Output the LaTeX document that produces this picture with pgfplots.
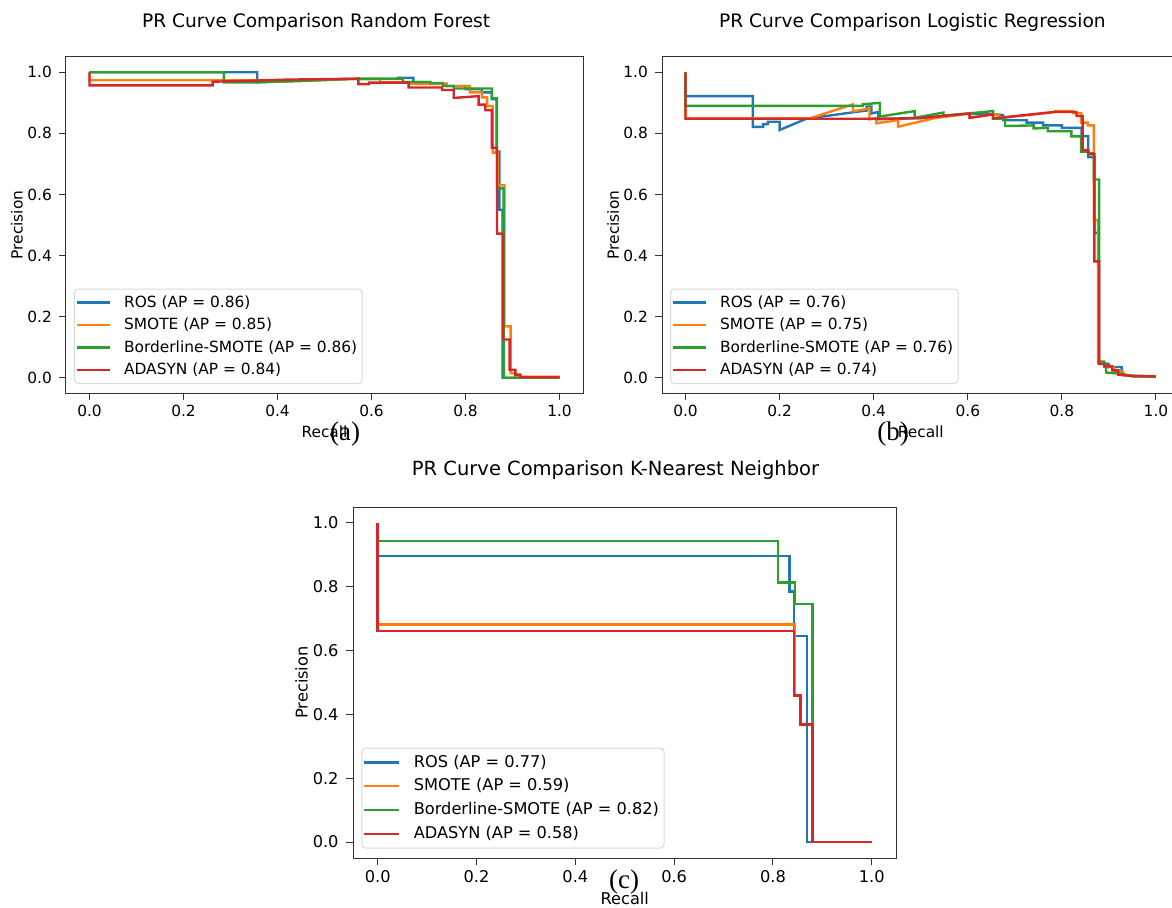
\documentclass[border=0pt]{standalone}
\usepackage{fontspec}
\setmainfont{DejaVu Sans}
\newfontfamily\capfont{Liberation Serif}
\usepackage{pgfplots}
\pgfplotsset{compat=1.18}

\definecolor{tabblue}{HTML}{1F77B4}
\definecolor{taborange}{HTML}{FF7F0E}
\definecolor{tabgreen}{HTML}{2CA02C}
\definecolor{tabred}{HTML}{D62728}

\pgfplotsset{
  prcurve/.style={
    scale only axis,
    xmin=-0.05, xmax=1.05, ymin=-0.05, ymax=1.05,
    xtick={0,0.2,0.4,0.6,0.8,1.0}, ytick={0,0.2,0.4,0.6,0.8,1.0},
    tick pos=left, tick align=outside,
    axis line style={black!80, line width=0.5pt},
    tick style={black!80, line width=0.5pt},
    /pgf/number format/assume math mode=true,
    /pgf/number format/fixed, /pgf/number format/fixed zerofill,
    /pgf/number format/precision=1,
    xlabel={Recall}, ylabel={Precision},
    legend cell align=left,
  },
  % sizes of the two top panels
  sizeA/.style={
    major tick length=3.5pt,
    ticklabel style={font=\fontsize{7.7}{9}\selectfont},
    xticklabel style={anchor=base, yshift=-8.3pt},
    title style={font=\fontsize{9.3}{11}\selectfont, anchor=base, yshift=8.7pt, xshift=-4.2pt},
    every axis x label/.style={at={(axis description cs:0.5,0)}, anchor=base, yshift=-22pt,
      font=\fontsize{7.7}{9}\selectfont},
    every axis y label/.style={at={(axis description cs:0,0.5)}, xshift=-24.5pt, rotate=90,
      anchor=center, font=\fontsize{7.7}{9}\selectfont},
    every axis plot/.append style={line width=1.2pt, no markers},
    legend image code/.code={\draw[##1] (0pt,0pt) -- (16.5pt,0pt);},
    legend style={at={(0,0)}, anchor=south west, xshift=4pt, yshift=4.5pt,
      font=\fontsize{7.7}{9}\selectfont, draw=black!15, line width=0.5pt,
      rounded corners=2pt, fill=white, fill opacity=0.8, text opacity=1,
      inner xsep=0.5pt, inner ysep=1.5pt, row sep=0.75pt,
      nodes={inner xsep=2pt, inner ysep=1.5pt, text height=6pt, text depth=1.5pt},
      /tikz/every odd column/.append style={column sep=4.6pt}},
  },
  % the bottom panel is drawn about 5 per cent larger
  sizeC/.style={
    major tick length=3.7pt,
    ticklabel style={font=\fontsize{8.1}{9.5}\selectfont},
    xticklabel style={anchor=base, yshift=-8.7pt},
    title style={font=\fontsize{9.75}{11.5}\selectfont, anchor=base, yshift=9.6pt, xshift=-4.6pt},
    every axis x label/.style={at={(axis description cs:0.5,0)}, anchor=base, yshift=-23pt,
      font=\fontsize{8.1}{9.5}\selectfont},
    every axis y label/.style={at={(axis description cs:0,0.5)}, xshift=-25.7pt, rotate=90,
      anchor=center, font=\fontsize{8.1}{9.5}\selectfont},
    every axis plot/.append style={line width=1.26pt, no markers},
    legend image code/.code={\draw[##1] (0pt,0pt) -- (17.3pt,0pt);},
    legend style={at={(0,0)}, anchor=south west, xshift=4.2pt, yshift=4.7pt,
      font=\fontsize{8.1}{9.5}\selectfont, draw=black!15, line width=0.5pt,
      rounded corners=2pt, fill=white, fill opacity=0.8, text opacity=1,
      inner xsep=0.5pt, inner ysep=1.6pt, row sep=0.8pt,
      nodes={inner xsep=2.1pt, inner ysep=1.6pt, text height=6.3pt, text depth=1.6pt},
      /tikz/every odd column/.append style={column sep=4.8pt}},
  },
}

\begin{document}
\begin{tikzpicture}
\useasboundingbox (0,0) rectangle (586pt,453.5pt);

% (a) Random Forest
\begin{axis}[prcurve, sizeA, at={(33pt,257pt)}, anchor=south west,
  width=258.5pt, height=168pt,
  title={PR Curve Comparison Random Forest}]
\addplot[tabblue] coordinates {(0,1.0)(0.357,1.0)(0.357,0.968)(0.45,0.972)(0.55,0.978)
  (0.657,0.979)(0.657,0.982)(0.689,0.982)(0.689,0.968)(0.725,0.968)(0.725,0.962)
  (0.76,0.962)(0.76,0.955)(0.8,0.955)(0.8,0.945)(0.835,0.945)(0.835,0.934)
  (0.856,0.934)(0.856,0.912)(0.866,0.912)(0.866,0.74)(0.872,0.74)(0.872,0.55)
  (0.879,0.55)(0.879,0.0)(1.0,0.0)};
\addlegendentry{ROS (AP = 0.86)}
\addplot[taborange] coordinates {(0,1.0)(0,0.974)(0.359,0.974)(0.359,0.968)(0.45,0.972)
  (0.55,0.978)(0.618,0.979)(0.618,0.968)(0.683,0.968)(0.683,0.962)(0.76,0.962)
  (0.76,0.955)(0.809,0.955)(0.809,0.934)(0.835,0.934)(0.835,0.918)(0.846,0.918)
  (0.846,0.889)(0.858,0.889)(0.858,0.737)(0.869,0.737)(0.869,0.63)(0.883,0.63)
  (0.883,0.168)(0.896,0.168)(0.896,0.015)(0.906,0.015)(0.906,0.003)(1.0,0.003)};
\addlegendentry{SMOTE (AP = 0.85)}
\addplot[tabgreen] coordinates {(0,1.0)(0.286,1.0)(0.286,0.967)(0.36,0.967)(0.45,0.972)
  (0.55,0.978)(0.667,0.979)(0.667,0.968)(0.725,0.968)(0.725,0.965)(0.752,0.965)
  (0.752,0.955)(0.775,0.955)(0.775,0.947)(0.856,0.947)(0.856,0.915)(0.867,0.915)
  (0.867,0.62)(0.881,0.62)(0.881,0.0)(1.0,0.0)};
\addlegendentry{Borderline-SMOTE (AP = 0.86)}
\addplot[tabred] coordinates {(0,1.0)(0,0.957)(0.262,0.957)(0.262,0.969)(0.377,0.974)
  (0.42,0.976)(0.572,0.979)(0.572,0.961)(0.595,0.961)(0.595,0.966)(0.679,0.966)
  (0.679,0.950)(0.75,0.950)(0.75,0.942)(0.775,0.942)(0.775,0.916)(0.828,0.922)
  (0.828,0.894)(0.842,0.894)(0.842,0.876)(0.856,0.876)(0.856,0.753)(0.867,0.753)
  (0.867,0.472)(0.880,0.472)(0.880,0.125)(0.894,0.125)(0.894,0.026)(0.906,0.026)
  (0.906,0.01)(0.917,0.01)(0.917,0.002)(1.0,0.002)};
\addlegendentry{ADASYN (AP = 0.84)}
\end{axis}

% (b) Logistic Regression
\begin{axis}[prcurve, sizeA, at={(331pt,257pt)}, anchor=south west,
  width=258.75pt, height=168pt,
  title={PR Curve Comparison Logistic Regression}]
\addplot[tabblue] coordinates {(0,1.0)(0,0.922)(0.143,0.922)(0.143,0.821)(0.165,0.821)
  (0.165,0.83)(0.175,0.83)(0.175,0.838)(0.2,0.838)(0.2,0.811)(0.257,0.848)
  (0.385,0.875)(0.385,0.888)(0.395,0.888)(0.395,0.865)(0.41,0.87)(0.41,0.846)
  (0.5,0.85)(0.604,0.865)(0.653,0.862)(0.675,0.86)(0.675,0.843)(0.725,0.843)
  (0.725,0.835)(0.76,0.835)(0.76,0.826)(0.8,0.826)(0.8,0.818)(0.842,0.818)
  (0.842,0.791)(0.856,0.791)(0.856,0.722)(0.869,0.722)(0.869,0.474)(0.878,0.474)
  (0.878,0.05)(0.9,0.045)(0.9,0.035)(0.927,0.035)(0.927,0.01)(0.95,0.006)(1.0,0.004)};
\addlegendentry{ROS (AP = 0.76)}
\addplot[taborange] coordinates {(0,1.0)(0,0.849)(0.264,0.849)(0.356,0.895)(0.356,0.872)
  (0.391,0.882)(0.391,0.846)(0.405,0.85)(0.405,0.833)(0.452,0.843)(0.452,0.822)
  (0.53,0.85)(0.604,0.865)(0.604,0.851)(0.653,0.862)(0.665,0.862)(0.665,0.849)
  (0.785,0.870)(0.785,0.873)(0.824,0.873)(0.824,0.866)(0.841,0.866)(0.841,0.835)
  (0.855,0.835)(0.855,0.826)(0.868,0.826)(0.868,0.516)(0.877,0.516)(0.877,0.048)
  (0.89,0.048)(0.89,0.035)(0.91,0.035)(0.91,0.02)(0.93,0.02)(0.93,0.008)(1.0,0.004)};
\addlegendentry{SMOTE (AP = 0.75)}
\addplot[tabgreen] coordinates {(0,1.0)(0,0.89)(0.377,0.89)(0.377,0.895)(0.413,0.9)
  (0.413,0.855)(0.487,0.873)(0.487,0.851)(0.548,0.868)(0.548,0.858)(0.60,0.865)
  (0.654,0.873)(0.654,0.848)(0.679,0.848)(0.679,0.824)(0.74,0.826)(0.74,0.816)
  (0.77,0.818)(0.77,0.807)(0.82,0.807)(0.82,0.79)(0.841,0.79)(0.841,0.74)
  (0.857,0.74)(0.857,0.735)(0.868,0.735)(0.868,0.649)(0.879,0.649)(0.879,0.053)
  (0.89,0.053)(0.89,0.045)(0.894,0.045)(0.894,0.017)(0.93,0.012)(0.95,0.004)(1.0,0.004)};
\addlegendentry{Borderline-SMOTE (AP = 0.76)}
\addplot[tabred] coordinates {(0,1.0)(0,0.848)(0.42,0.848)(0.5,0.85)(0.604,0.865)
  (0.604,0.851)(0.653,0.862)(0.653,0.849)(0.785,0.870)(0.831,0.870)(0.831,0.857)
  (0.844,0.857)(0.844,0.745)(0.856,0.745)(0.856,0.732)(0.869,0.732)(0.869,0.381)
  (0.879,0.381)(0.879,0.045)(0.89,0.045)(0.89,0.037)(0.907,0.037)(0.907,0.024)
  (0.92,0.024)(0.92,0.010)(0.95,0.006)(1.0,0.004)};
\addlegendentry{ADASYN (AP = 0.74)}
\end{axis}

% (c) K-Nearest Neighbor
\begin{axis}[prcurve, sizeC, at={(176.5pt,24.5pt)}, anchor=south west,
  width=271.75pt, height=175.5pt,
  title={PR Curve Comparison K-Nearest Neighbor}]
\addplot[tabblue] coordinates {(0,1.0)(0,0.896)(0.833,0.896)(0.833,0.786)(0.843,0.786)
  (0.843,0.645)(0.869,0.645)(0.869,0.0)(1.0,0.0)};
\addlegendentry{ROS (AP = 0.77)}
\addplot[taborange] coordinates {(0,1.0)(0,0.681)(0.845,0.681)(0.845,0.46)(0.856,0.46)
  (0.856,0.368)(0.88,0.368)(0.88,0.0)(1.0,0.0)};
\addlegendentry{SMOTE (AP = 0.59)}
\addplot[tabgreen] coordinates {(0,1.0)(0,0.943)(0.810,0.943)(0.810,0.814)(0.845,0.814)
  (0.845,0.746)(0.880,0.746)(0.880,0.0)(1.0,0.0)};
\addlegendentry{Borderline-SMOTE (AP = 0.82)}
\addplot[tabred] coordinates {(0,1.0)(0,0.662)(0.843,0.662)(0.843,0.46)(0.856,0.46)
  (0.856,0.368)(0.880,0.368)(0.880,0.0)(1.0,0.0)};
\addlegendentry{ADASYN (AP = 0.58)}
\end{axis}

\node[font=\capfont\fontsize{13.5}{16}\selectfont, anchor=base] at (172.5pt,233.25pt) {(a)};
\node[font=\capfont\fontsize{13.5}{16}\selectfont, anchor=base] at (446.5pt,233.25pt) {(b)};
\node[font=\capfont\fontsize{13.5}{16}\selectfont, anchor=base] at (312pt,9.5pt) {(c)};
\end{tikzpicture}
\end{document}
